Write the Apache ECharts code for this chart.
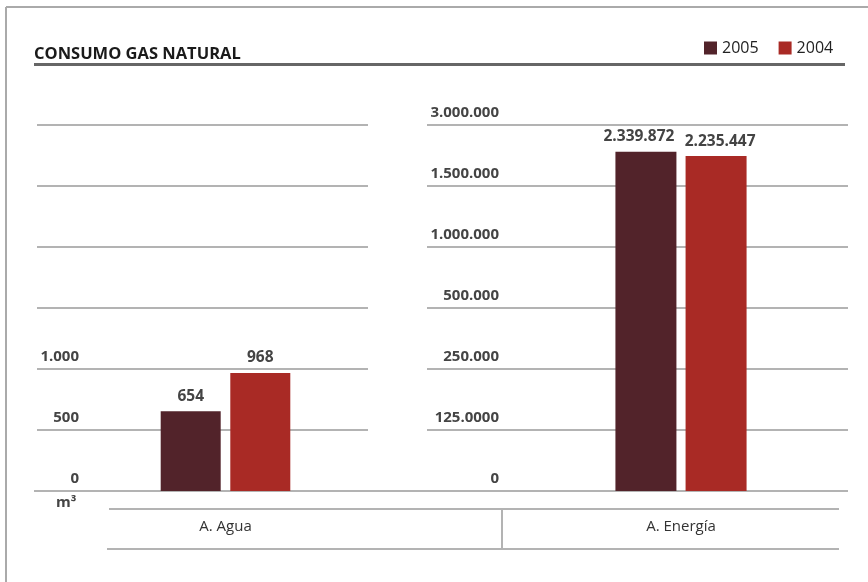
<!DOCTYPE html>
<html>
<head>
<meta charset="utf-8">
<script src="https://cdn.jsdelivr.net/npm/echarts@6/dist/echarts.min.js"></script>
<style>html,body{margin:0;padding:0;background:#fff}#c{width:868px;height:582px}</style>
</head>
<body>
<div id="c"></div>
<script>
var categories = ['A. Agua', 'A. Energía'];
var seriesNames = ['2005', '2004'];
var values2005 = [654, 2339872];
var values2004 = [968, 2235447];
var aguaTicks = [0, 500, 1000];
var aguaTickLabels = ['0', '500', '1.000'];
var energiaTicks = [0, 125000, 250000, 500000, 1000000, 1500000, 3000000];
var energiaTickLabels = ['0', '125.0000', '250.000', '500.000', '1.000.000', '1.500.000', '3.000.000'];

var COL2005 = '#52232a', COL2004 = '#a92a25';
var GRID = '#b3b3b3';
var FONT = 'Open Sans';

function toPos(v, ticks) {
  for (var i = 1; i < ticks.length; i++) {
    if (v <= ticks[i]) return (i - 1) + (v - ticks[i - 1]) / (ticks[i] - ticks[i - 1]);
  }
  return ticks.length - 1;
}
function fmt(v) { return String(v).replace(/\B(?=(\d{3})+(?!\d))/g, '.'); }

var TOP = 125, BOTTOM = 582 - 491;
function yAx(show, labels, margin) {
  return {
    type: 'value', min: 0, max: 6, interval: 1, show: show,
    axisLine: {show: false}, axisTick: {show: false},
    splitLine: {show: show, lineStyle: {color: GRID, width: 2}},
    axisLabel: {
      show: show, margin: margin, verticalAlign: 'bottom', padding: [0, 0, 5, 0],
      color: '#444', fontFamily: FONT, fontWeight: 'bold', fontSize: 15,
      formatter: function (v) { return labels && labels[v] !== undefined ? labels[v] : ''; }
    }
  };
}
function xCat(cat) {
  return {
    type: 'category', data: [cat],
    axisLine: {show: false}, axisTick: {show: false}, splitLine: {show: false},
    axisLabel: {margin: 28, color: '#333', fontFamily: FONT, fontSize: 15}
  };
}
function labelCfg(dx) {
  return {
    show: true, position: 'top', distance: 7, offset: [dx || 0, 0],
    color: '#444', fontFamily: FONT, fontWeight: 'bold', fontSize: 15.5,
    formatter: function (p) { return fmt(p.data.raw); }
  };
}

var option = {
  animation: false,
  title: {
    text: 'CONSUMO GAS NATURAL', left: 34, top: 46, padding: 0,
    textStyle: {fontFamily: FONT, fontWeight: 'bold', fontSize: 16.5, color: '#1a1a1a'}
  },
  legend: {
    data: seriesNames, left: 704, top: 40, padding: 0, itemWidth: 13, itemHeight: 13, itemGap: 20, itemTextGap: 6, icon: 'rect',
    textStyle: {fontFamily: FONT, fontSize: 16, color: '#222'}
  },
  grid: [
    {left: 37, width: 331, top: TOP, bottom: BOTTOM},
    {left: 427, width: 421, top: TOP, bottom: BOTTOM},
    {left: 160, width: 131, top: TOP, bottom: BOTTOM},
    {left: 612, width: 138, top: TOP, bottom: BOTTOM}
  ],
  xAxis: [
    {gridIndex: 0, type: 'value', show: false},
    {gridIndex: 1, type: 'value', show: false},
    Object.assign({gridIndex: 2}, xCat(categories[0])),
    Object.assign({gridIndex: 3}, xCat(categories[1]))
  ],
  yAxis: [
    Object.assign({gridIndex: 0}, yAx(true, aguaTickLabels, -42)),
    Object.assign({gridIndex: 1}, yAx(true, energiaTickLabels, -72)),
    Object.assign({gridIndex: 2}, yAx(false)),
    Object.assign({gridIndex: 3}, yAx(false))
  ],
  series: [
    {name: seriesNames[0], type: 'bar', xAxisIndex: 2, yAxisIndex: 2, barWidth: 60, barGap: '16%',
     itemStyle: {color: COL2005}, label: labelCfg(0),
     data: [{value: toPos(values2005[0], aguaTicks), raw: values2005[0]}]},
    {name: seriesNames[1], type: 'bar', xAxisIndex: 2, yAxisIndex: 2, barWidth: 60, barGap: '16%',
     itemStyle: {color: COL2004}, label: labelCfg(0),
     data: [{value: toPos(values2004[0], aguaTicks), raw: values2004[0]}]},
    {name: seriesNames[0], type: 'bar', xAxisIndex: 3, yAxisIndex: 3, barWidth: 61, barGap: '15%',
     itemStyle: {color: COL2005}, label: labelCfg(-7),
     data: [{value: toPos(values2005[1], energiaTicks), raw: values2005[1]}]},
    {name: seriesNames[1], type: 'bar', xAxisIndex: 3, yAxisIndex: 3, barWidth: 61, barGap: '15%',
     itemStyle: {color: COL2004}, label: labelCfg(4),
     data: [{value: toPos(values2004[1], energiaTicks), raw: values2004[1]}]}
  ],
  graphic: [
    {type: 'line', shape: {x1: 6, y1: 7, x2: 868, y2: 7}, style: {stroke: '#aaa', lineWidth: 2}},
    {type: 'line', shape: {x1: 6, y1: 7, x2: 6, y2: 582}, style: {stroke: '#aaa', lineWidth: 2}},
    {type: 'rect', shape: {x: 34, y: 63, width: 811, height: 3}, style: {fill: '#666'}},
    {type: 'line', shape: {x1: 34, y1: 491, x2: 848, y2: 491}, style: {stroke: GRID, lineWidth: 2}},
    {type: 'line', shape: {x1: 109, y1: 509, x2: 839, y2: 509}, style: {stroke: GRID, lineWidth: 2}},
    {type: 'line', shape: {x1: 107, y1: 549, x2: 839, y2: 549}, style: {stroke: GRID, lineWidth: 2}},
    {type: 'line', shape: {x1: 502, y1: 509, x2: 502, y2: 549}, style: {stroke: GRID, lineWidth: 2}},
    {type: 'text', left: 56, top: 495, style: {text: 'm³', fill: '#444', font: 'bold 15px "Open Sans"'}}
  ]
};
echarts.init(document.getElementById('c')).setOption(option);
</script>
</body>
</html>
